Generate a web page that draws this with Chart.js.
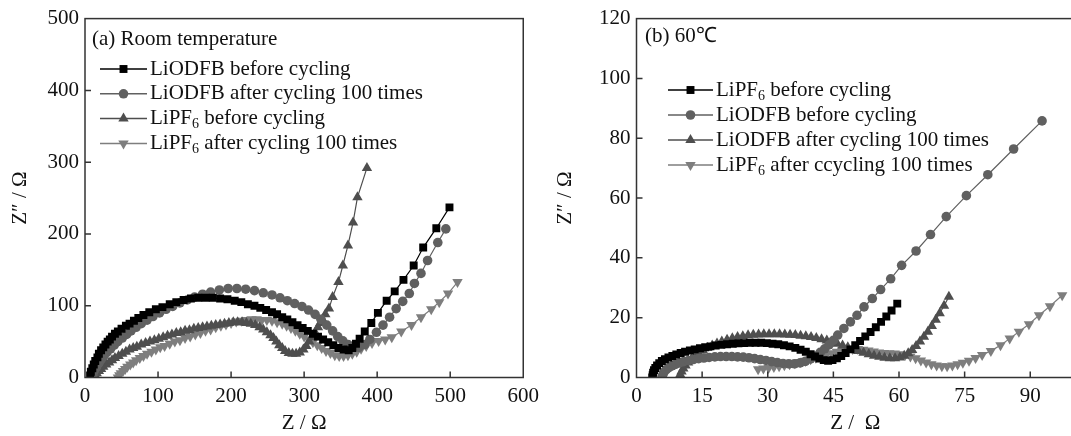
<!DOCTYPE html>
<html>
<head>
<meta charset="utf-8">
<title>EIS Nyquist plots</title>
<script src="https://cdn.jsdelivr.net/npm/chart.js@4.4.1/dist/chart.umd.min.js"></script>
<style>
  html, body { margin: 0; padding: 0; background: #fff; overflow: hidden; }
  #panelA { position: absolute; left: 0; top: 0; }
  #panelB { position: absolute; left: 545px; top: 0; }
</style>
</head>
<body>
<canvas id="panelA" width="545" height="436"></canvas>
<canvas id="panelB" width="555" height="436"></canvas>
<script>
// tick values
const aXTicks = [0, 100, 200, 300, 400, 500, 600];
const aYTicks = [0, 100, 200, 300, 400, 500];
const bXTicks = [0, 15, 30, 45, 60, 75, 90];
const bYTicks = [0, 20, 40, 60, 80, 100, 120];

// ---- (a) room temperature ----
const aOdfbBeforeX = [7,8,10,12,14,17,19,22,25,28,31,34,37,41,45,50,56,61,67,73,80,88,97,106,116,125,135,145,155,165,175,185,195,205,214,223,232,240,248,256,263,270,277,284,291,298,305,312,319,326,333,340,347,354,361,366,371,376,383,392,401,413,424,436,450,463,481,499];
const aOdfbBeforeY = [3,8,13,18,23,28,33,38,42,46,50,53,57,61,64,68,72,75,79,83,87,91,95,98,102,105,108,110,111,111,111,110,109,107,105,102,100,97,94,91,88,84,81,77,73,69,65,61,57,53,49,45,41,39,38,41,47,54,64,76,90,107,120,136,156,181,208,237];
const aOdfbAfterX = [9,11,13,16,19,22,26,30,35,40,45,51,57,63,70,77,85,93,102,111,120,130,140,150,161,172,184,196,208,220,232,244,256,267,277,287,297,306,315,323,331,339,346,353,360,367,375,383,390,399,408,417,426,435,444,451,460,469,483,494];
const aOdfbAfterY = [0,5,10,15,20,25,30,35,40,45,50,55,60,65,70,75,80,85,90,95,99,104,108,112,116,119,122,124,124,123,121,118,115,111,107,103,99,94,88,81,73,65,57,51,46,43,42,46,53,63,73,84,96,106,117,131,145,163,188,207];
const aPf6BeforeX = [12,14,16,19,22,25,29,33,37,41,46,51,56,61,66,71,77,83,89,95,101,107,113,119,125,131,137,143,149,155,161,167,173,179,185,191,197,203,209,215,221,227,233,239,244,249,254,258,262,266,270,274,279,284,289,294,299,303,307,311,315,319,322,325,329,334,339,347,353,360,367,373,386];
const aPf6BeforeY = [0,3,6,9,12,15,18,21,24,27,30,33,36,39,41,43,46,48,50,52,54,56,58,60,62,63,65,66,68,69,70,71,72,73,74,75,76,77,77,77,76,75,73,70,67,63,59,55,50,45,41,37,34,33,33,35,39,44,50,56,63,70,76,81,88,96,112,133,156,184,216,251,292];
const aPf6AfterX = [45,47,49,52,55,58,62,66,70,75,80,85,91,97,103,109,116,123,130,137,144,151,158,165,172,179,186,193,200,207,214,221,228,235,242,249,256,263,270,276,282,288,294,300,306,312,318,324,330,336,342,348,354,360,366,372,378,385,393,402,411,420,433,447,460,474,485,497,510];
const aPf6AfterY = [0,3,6,9,12,15,18,21,24,27,30,33,36,39,42,44,47,50,52,55,57,60,62,65,67,70,72,74,76,78,79,80,81,81,80,80,79,77,75,72,69,65,61,57,53,49,45,41,37,34,31,30,30,31,33,36,40,44,48,51,53,56,64,73,84,95,105,117,133];

// ---- (b) 60 C ----
const bPf6BeforeX = [3.6,3.7,3.8,4.0,4.3,4.7,5.2,5.8,6.5,7.3,8.2,9.1,10.1,11.1,12.2,13.3,14.5,15.7,16.9,18.1,19.4,20.7,22,23.3,24.6,25.9,27.2,28.5,29.8,31.1,32.4,33.7,35,36.3,37.5,38.7,39.8,40.8,41.8,42.8,43.8,44.8,45.8,46.8,47.8,48.9,50,51.1,52.3,53.5,54.7,55.9,57.1,58.3,59.6];
const bPf6BeforeY = [0,0.8,1.6,2.4,3.2,4,4.8,5.5,6.1,6.7,7.2,7.7,8.2,8.6,9,9.4,9.8,10.1,10.4,10.7,10.9,11.1,11.3,11.4,11.5,11.6,11.6,11.6,11.5,11.3,11.1,10.8,10.4,9.9,9.3,8.6,7.8,7,6.3,5.8,5.6,5.8,6.4,7.2,8.2,9.4,10.8,12.2,13.7,15.2,16.8,18.6,20.4,22.4,24.7];
const bOdfbBeforeX = [5.8,6,6.3,6.8,7.4,8.1,8.9,9.8,10.8,11.9,13,14.2,15.4,16.6,17.9,19.2,20.5,21.8,23.1,24.4,25.7,27,28.3,29.6,30.9,32.2,33.5,34.8,36.1,37.4,38.6,39.8,40.9,42,43,44,45,46,47.4,48.9,50.4,52,53.9,55.8,58.1,60.6,63.9,67.2,70.8,75.4,80.3,86.2,92.7];
const bOdfbBeforeY = [0,0.9,1.8,2.6,3.3,3.9,4.4,4.9,5.3,5.7,6,6.3,6.5,6.7,6.9,7,7,7,6.9,6.8,6.6,6.3,6,5.7,5.3,5,4.7,4.6,4.6,4.9,5.4,6.2,7.2,8.4,9.6,10.9,12.4,14.2,16.4,18.6,20.8,23.6,26.4,29.4,33,37.5,42.3,47.8,53.8,60.8,67.8,76.4,85.8];
const bOdfbAfterX = [9.8,10,10.3,10.7,11.2,11.8,12.5,13.3,14.2,15.2,16.2,17.3,18.4,19.5,20.7,21.9,23.1,24.3,25.5,26.7,27.9,29.1,30.3,31.5,32.7,33.9,35.1,36.3,37.5,38.7,39.9,41.1,42.3,43.5,44.7,45.9,47.1,48.3,49.5,50.7,51.9,53.1,54.3,55.5,56.7,57.9,59.1,60.2,61.2,62.1,63,63.9,64.8,65.7,66.6,67.5,68.4,69.3,70.3,71.4];
const bOdfbAfterY = [0,1,2,3,4,5,6,7,8,9,9.9,10.7,11.4,12,12.6,13.1,13.5,13.8,14.1,14.3,14.4,14.5,14.5,14.5,14.5,14.4,14.3,14.2,14,13.8,13.5,13.2,12.8,12.4,11.9,11.3,10.7,10.1,9.5,8.9,8.3,7.8,7.3,6.9,6.6,6.4,6.4,6.7,7.3,8.1,9.2,10.5,12,13.6,15.3,17.2,19.3,21.5,24,27];
const bPf6AfterX = [27.8,29,30.2,31.4,32.6,33.8,35,36.2,37.4,38.6,39.8,41,42.2,43.4,44.6,45.8,47,48.2,49.4,50.6,51.8,53,54.2,55.4,56.6,57.8,59,60.2,61.4,62.6,63.8,65,66.2,67.4,68.6,69.8,71,72.2,73.4,74.6,76,77.5,79,81,83.2,85.3,87.4,89.7,92,94.5,97.3];
const bPf6AfterY = [2.8,3,3.2,3.5,3.8,4.1,4.4,4.8,5.2,5.6,6.1,6.6,7.1,7.6,8.1,8.6,9,9.3,9.5,9.5,9.3,9,8.7,8.4,8.2,8.1,8,7.8,7.5,7,6.4,5.7,5,4.4,4,3.8,3.8,4,4.4,4.9,5.6,6.5,7.5,8.9,10.8,13,15.3,17.8,20.8,23.8,27.5];

const serif = '"Liberation Serif", "Times New Roman", serif';

function pts(xs, ys) {
  return xs.map((x, i) => ({ x: x, y: ys[i] }));
}

function series(label, xs, ys, color, style, radius, rot) {
  return {
    label: label,
    data: pts(xs, ys),
    showLine: true,
    borderColor: color,
    backgroundColor: color,
    borderWidth: 1.2,
    pointStyle: style,
    pointRadius: radius,
    pointRotation: rot || 0,
    pointBorderWidth: 0,
    pointBackgroundColor: color,
    tension: 0
  };
}

// frame + inward tick marks
const framePlugin = {
  id: 'frame',
  afterDatasetsDraw(chart) {
    const ctx = chart.ctx;
    const a = chart.chartArea;
    const xs = chart.scales.x, ys = chart.scales.y;
    ctx.save();
    ctx.strokeStyle = '#333';
    ctx.lineWidth = 1.5;
    ctx.strokeRect(a.left, a.top, a.right - a.left, a.bottom - a.top);
    ctx.beginPath();
    xs.ticks.forEach(t => {
      if (t.value <= xs.min || t.value >= xs.max) return;
      const px = xs.getPixelForValue(t.value);
      ctx.moveTo(px, a.bottom);
      ctx.lineTo(px, a.bottom - 6);
    });
    ys.ticks.forEach(t => {
      if (t.value <= ys.min || t.value >= ys.max) return;
      const py = ys.getPixelForValue(t.value);
      ctx.moveTo(a.left, py);
      ctx.lineTo(a.left + 6, py);
    });
    ctx.stroke();
    ctx.restore();
  }
};

// legend drawn inside the plot, with subscript support
const boxLegend = {
  id: 'boxLegend',
  afterDatasetsDraw(chart, args, opts) {
    const ctx = chart.ctx;
    ctx.save();
    ctx.fillStyle = '#111';
    ctx.textBaseline = 'middle';
    ctx.font = '21px ' + serif;
    ctx.fillText(opts.note, opts.noteX, opts.noteY);
    chart.data.datasets.forEach((ds, i) => {
      const y = opts.y0 + i * opts.dy;
      ctx.strokeStyle = ds.borderColor;
      ctx.lineWidth = 1.5;
      ctx.beginPath();
      ctx.moveTo(opts.x0, y);
      ctx.lineTo(opts.x0 + opts.w, y);
      ctx.stroke();
      ctx.fillStyle = ds.pointBackgroundColor;
      Chart.helpers.drawPoint(ctx, {
        pointStyle: ds.pointStyle, radius: ds.pointRadius,
        rotation: ds.pointRotation, borderWidth: 0
      }, opts.x0 + opts.w / 2, y);
      ctx.fillStyle = '#111';
      let tx = opts.x0 + opts.w + 3;
      const parts = ds.label.split('₆');
      parts.forEach((p, k) => {
        ctx.font = '21px ' + serif;
        ctx.fillText(p, tx, y);
        tx += ctx.measureText(p).width;
        if (k < parts.length - 1) {
          ctx.font = '14px ' + serif;
          ctx.fillText('6', tx, y + 6);
          tx += ctx.measureText('6').width;
        }
      });
    });
    ctx.restore();
  }
};

function axes(xTicks, yTicks, yWidth, xTitle) {
  const tickFont = { family: serif, size: 21 };
  return {
    x: {
      type: 'linear', min: 0, max: xTicks === bXTicks ? 100 : xTicks[xTicks.length - 1],
      ticks: { font: tickFont, color: '#111', padding: 6, maxRotation: 0, autoSkip: false },
      afterBuildTicks: s => { s.ticks = xTicks.map(v => ({ value: v })); },
      afterFit: s => { s.height = 58.5; },
      grid: { display: false, drawTicks: false },
      border: { display: false },
      title: { display: true, text: xTitle, font: { family: serif, size: 21 }, color: '#111', padding: { top: 0, bottom: 0 } }
    },
    y: {
      type: 'linear', min: 0, max: yTicks[yTicks.length - 1],
      ticks: { font: tickFont, color: '#111', padding: 6, autoSkip: false },
      afterBuildTicks: s => { s.ticks = yTicks.map(v => ({ value: v })); },
      afterFit: s => { s.width = yWidth; },
      grid: { display: false, drawTicks: false },
      border: { display: false },
      title: { display: true, text: 'Z″ / Ω', font: { family: serif, size: 21 }, color: '#111', padding: { top: 8, bottom: 0 } }
    }
  };
}

new Chart(document.getElementById('panelA'), {
  type: 'scatter',
  data: {
    datasets: [
      series('LiODFB before cycling', aOdfbBeforeX, aOdfbBeforeY, '#000000', 'rect', 5.6),
      series('LiODFB after cycling 100 times', aOdfbAfterX, aOdfbAfterY, '#606060', 'circle', 4.8),
      series('LiPF₆ before cycling', aPf6BeforeX, aPf6BeforeY, '#4e4e4e', 'triangle', 6),
      series('LiPF₆ after cycling 100 times', aPf6AfterX, aPf6AfterY, '#7e7e7e', 'triangle', 6, 180)
    ]
  },
  options: {
    responsive: false,
    animation: false,
    layout: { padding: { left: 0, top: 17, right: 19, bottom: 0 } },
    plugins: {
      legend: { display: false },
      tooltip: { enabled: false },
      boxLegend: { note: '(a) Room temperature', noteX: 92, noteY: 39, x0: 100, w: 47, y0: 69, dy: 24.8 }
    },
    scales: axes(aXTicks, aYTicks, 85, 'Z / Ω')
  },
  plugins: [framePlugin, boxLegend]
});

new Chart(document.getElementById('panelB'), {
  type: 'scatter',
  data: {
    datasets: [
      series('LiPF₆ before cycling', bPf6BeforeX, bPf6BeforeY, '#000000', 'rect', 5.6),
      series('LiODFB before cycling', bOdfbBeforeX, bOdfbBeforeY, '#606060', 'circle', 4.8),
      series('LiODFB after cycling 100 times', bOdfbAfterX, bOdfbAfterY, '#4e4e4e', 'triangle', 6),
      series('LiPF₆ after ccycling 100 times', bPf6AfterX, bPf6AfterY, '#7e7e7e', 'triangle', 6, 180)
    ]
  },
  options: {
    responsive: false,
    animation: false,
    layout: { padding: { left: 0, top: 17, right: 26, bottom: 0 } },
    plugins: {
      legend: { display: false },
      tooltip: { enabled: false },
      boxLegend: { note: '(b) 60℃', noteX: 100, noteY: 36, x0: 123, w: 45, y0: 90, dy: 25 }
    },
    scales: axes(bXTicks, bYTicks, 91.5, 'Z /  Ω')
  },
  plugins: [framePlugin, boxLegend]
});
</script>
</body>
</html>
